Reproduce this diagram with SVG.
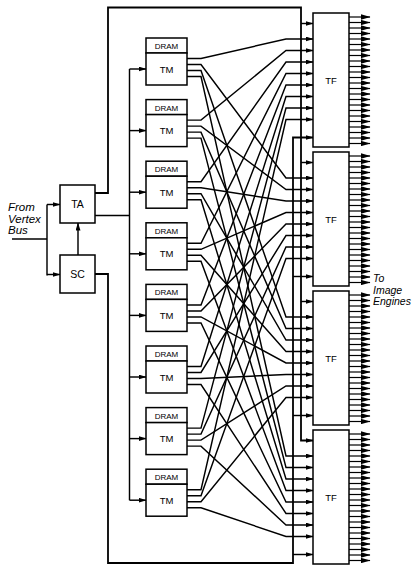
<svg xmlns="http://www.w3.org/2000/svg" xmlns:xlink="http://www.w3.org/1999/xlink" width="412" height="565" viewBox="0 0 412 565">
<style>
.ln{fill:none;stroke:#000;stroke-width:1.45}
.bus{fill:none;stroke:#000;stroke-width:1.8}
.out{fill:none;stroke:#000;stroke-width:1.2}
.bx{fill:#fff;stroke:#000;stroke-width:1.5}
.lb{font-family:"Liberation Sans",Arial,sans-serif;text-anchor:middle;fill:#000}
.it{font-family:"Liberation Sans",Arial,sans-serif;font-style:italic;fill:#000}
</style>
<defs>
<marker id="ah" viewBox="0 0 8 5" refX="7.5" refY="2.5" markerWidth="8" markerHeight="5" markerUnits="userSpaceOnUse" orient="auto"><path d="M0,0 L8,2.5 L0,5 z" fill="#000"/></marker>
<marker id="ao" viewBox="0 0 10 5.6" refX="9.5" refY="2.8" markerWidth="10" markerHeight="5.6" markerUnits="userSpaceOnUse" orient="auto"><path d="M0,0 L10,2.8 L0,5.6 z" fill="#000"/></marker>
<g id="outs" class="out" marker-end="url(#ao)">
<line x1="349" y1="4" x2="370" y2="4"/><line x1="349" y1="9.5" x2="370" y2="9.5"/><line x1="349" y1="15" x2="370" y2="15"/><line x1="349" y1="20.5" x2="370" y2="20.5"/>
<line x1="349" y1="26" x2="370" y2="26"/><line x1="349" y1="31.5" x2="370" y2="31.5"/><line x1="349" y1="37" x2="370" y2="37"/><line x1="349" y1="42.5" x2="370" y2="42.5"/>
<line x1="349" y1="48" x2="370" y2="48"/><line x1="349" y1="53.5" x2="370" y2="53.5"/><line x1="349" y1="59" x2="370" y2="59"/><line x1="349" y1="64.5" x2="370" y2="64.5"/>
<line x1="349" y1="70" x2="370" y2="70"/><line x1="349" y1="75.5" x2="370" y2="75.5"/><line x1="349" y1="81" x2="370" y2="81"/><line x1="349" y1="86.5" x2="370" y2="86.5"/>
<line x1="349" y1="92" x2="370" y2="92"/><line x1="349" y1="97.5" x2="370" y2="97.5"/><line x1="349" y1="103" x2="370" y2="103"/><line x1="349" y1="108.5" x2="370" y2="108.5"/>
<line x1="349" y1="114" x2="370" y2="114"/><line x1="349" y1="119.5" x2="370" y2="119.5"/><line x1="349" y1="125" x2="370" y2="125"/><line x1="349" y1="130.5" x2="370" y2="130.5"/>
</g>
</defs>
<rect width="412" height="565" fill="#fff"/>

<g id="connectors">
<g class="ln">
<line x1="12" y1="239" x2="47" y2="239"/>
<line x1="47" y1="204.5" x2="47" y2="275.5"/>
<line x1="47" y1="204.5" x2="60" y2="204.5" marker-end="url(#ah)"/>
<line x1="47" y1="274.5" x2="60" y2="274.5" marker-end="url(#ah)"/>
<line x1="78" y1="255" x2="78" y2="223" marker-end="url(#ah)"/>
<line x1="95" y1="215.5" x2="129.5" y2="215.5"/>
<line x1="129.5" y1="69" x2="129.5" y2="500.2"/>
<line x1="129.5" y1="69" x2="146" y2="69" marker-end="url(#ah)"/>
<line x1="129.5" y1="130.6" x2="146" y2="130.6" marker-end="url(#ah)"/>
<line x1="129.5" y1="192.2" x2="146" y2="192.2" marker-end="url(#ah)"/>
<line x1="129.5" y1="253.8" x2="146" y2="253.8" marker-end="url(#ah)"/>
<line x1="129.5" y1="315.4" x2="146" y2="315.4" marker-end="url(#ah)"/>
<line x1="129.5" y1="377" x2="146" y2="377" marker-end="url(#ah)"/>
<line x1="129.5" y1="438.6" x2="146" y2="438.6" marker-end="url(#ah)"/>
<line x1="129.5" y1="500.2" x2="146" y2="500.2" marker-end="url(#ah)"/>
</g>
<polyline class="bus" points="95,193 108,193 108,7.5 301,7.5 301,440.5 313,440.5" marker-end="url(#ah)"/>
<polyline class="bus" points="95,274 108,274 108,563 293,563 293,137.5 313,137.5" marker-end="url(#ah)"/>
<g class="ln" marker-end="url(#ah)">
<line x1="301" y1="23.5" x2="313" y2="23.5"/>
<line x1="301" y1="162.5" x2="313" y2="162.5"/>
<line x1="301" y1="301.5" x2="313" y2="301.5"/>
<line x1="293" y1="276.5" x2="313" y2="276.5"/>
<line x1="293" y1="415.5" x2="313" y2="415.5"/>
<line x1="293" y1="554.5" x2="313" y2="554.5"/>
</g>
<g class="ln" marker-end="url(#ah)">
<polyline points="187,58.5 201,58.5 286,39 313,39"/>
<polyline points="187,64.5 201,64.5 286,178 313,178"/>
<polyline points="187,70.5 201,70.5 286,317 313,317"/>
<polyline points="187,76.5 201,76.5 286,456 313,456"/>
<polyline points="187,120.1 201,120.1 286,50.5 313,50.5"/>
<polyline points="187,126.1 201,126.1 286,189.5 313,189.5"/>
<polyline points="187,132.1 201,132.1 286,328.5 313,328.5"/>
<polyline points="187,138.1 201,138.1 286,467.5 313,467.5"/>
<polyline points="187,181.7 201,181.7 286,62 313,62"/>
<polyline points="187,187.7 201,187.7 286,201 313,201"/>
<polyline points="187,193.7 201,193.7 286,340 313,340"/>
<polyline points="187,199.7 201,199.7 286,479 313,479"/>
<polyline points="187,243.3 201,243.3 286,73.5 313,73.5"/>
<polyline points="187,249.3 201,249.3 286,212.5 313,212.5"/>
<polyline points="187,255.3 201,255.3 286,351.5 313,351.5"/>
<polyline points="187,261.3 201,261.3 286,490.5 313,490.5"/>
<polyline points="187,304.9 201,304.9 286,85 313,85"/>
<polyline points="187,310.9 201,310.9 286,224 313,224"/>
<polyline points="187,316.9 201,316.9 286,363 313,363"/>
<polyline points="187,322.9 201,322.9 286,502 313,502"/>
<polyline points="187,366.5 201,366.5 286,96.5 313,96.5"/>
<polyline points="187,372.5 201,372.5 286,235.5 313,235.5"/>
<polyline points="187,378.5 201,378.5 286,374.5 313,374.5"/>
<polyline points="187,384.5 201,384.5 286,513.5 313,513.5"/>
<polyline points="187,428.1 201,428.1 286,108 313,108"/>
<polyline points="187,434.1 201,434.1 286,247 313,247"/>
<polyline points="187,440.1 201,440.1 286,386 313,386"/>
<polyline points="187,446.1 201,446.1 286,525 313,525"/>
<polyline points="187,489.7 201,489.7 286,119.5 313,119.5"/>
<polyline points="187,495.7 201,495.7 286,258.5 313,258.5"/>
<polyline points="187,501.7 201,501.7 286,397.5 313,397.5"/>
<polyline points="187,507.7 201,507.7 286,536.5 313,536.5"/>
</g>
<use href="#outs" xlink:href="#outs" y="13"/>
<use href="#outs" xlink:href="#outs" y="152"/>
<use href="#outs" xlink:href="#outs" y="291"/>
<use href="#outs" xlink:href="#outs" y="430"/>
</g>

<g id="TA"><rect class="bx" x="60" y="185" width="35" height="38"/><text class="lb" x="77.5" y="208" font-size="10.5">TA</text></g>
<g id="SC"><rect class="bx" x="60" y="255" width="35" height="38"/><text class="lb" x="77.5" y="278" font-size="10.5">SC</text></g>

<g id="TM1"><rect class="bx" x="146" y="38" width="41" height="15"/><text class="lb" x="166.5" y="49" font-size="8">DRAM</text><rect class="bx" x="146" y="53" width="41" height="32"/><text class="lb" x="166.5" y="72.5" font-size="9.5">TM</text></g>
<g id="TM2"><rect class="bx" x="146" y="99.6" width="41" height="15"/><text class="lb" x="166.5" y="110.6" font-size="8">DRAM</text><rect class="bx" x="146" y="114.6" width="41" height="32"/><text class="lb" x="166.5" y="134.1" font-size="9.5">TM</text></g>
<g id="TM3"><rect class="bx" x="146" y="161.2" width="41" height="15"/><text class="lb" x="166.5" y="172.2" font-size="8">DRAM</text><rect class="bx" x="146" y="176.2" width="41" height="32"/><text class="lb" x="166.5" y="195.7" font-size="9.5">TM</text></g>
<g id="TM4"><rect class="bx" x="146" y="222.8" width="41" height="15"/><text class="lb" x="166.5" y="233.8" font-size="8">DRAM</text><rect class="bx" x="146" y="237.8" width="41" height="32"/><text class="lb" x="166.5" y="257.3" font-size="9.5">TM</text></g>
<g id="TM5"><rect class="bx" x="146" y="284.4" width="41" height="15"/><text class="lb" x="166.5" y="295.4" font-size="8">DRAM</text><rect class="bx" x="146" y="299.4" width="41" height="32"/><text class="lb" x="166.5" y="318.9" font-size="9.5">TM</text></g>
<g id="TM6"><rect class="bx" x="146" y="346" width="41" height="15"/><text class="lb" x="166.5" y="357" font-size="8">DRAM</text><rect class="bx" x="146" y="361" width="41" height="32"/><text class="lb" x="166.5" y="380.5" font-size="9.5">TM</text></g>
<g id="TM7"><rect class="bx" x="146" y="407.6" width="41" height="15"/><text class="lb" x="166.5" y="418.6" font-size="8">DRAM</text><rect class="bx" x="146" y="422.6" width="41" height="32"/><text class="lb" x="166.5" y="442.1" font-size="9.5">TM</text></g>
<g id="TM8"><rect class="bx" x="146" y="469.2" width="41" height="15"/><text class="lb" x="166.5" y="480.2" font-size="8">DRAM</text><rect class="bx" x="146" y="484.2" width="41" height="32"/><text class="lb" x="166.5" y="503.7" font-size="9.5">TM</text></g>

<g id="TF1"><rect class="bx" x="313" y="13" width="36" height="134"/><text class="lb" x="331" y="83.5" font-size="9.5">TF</text></g>
<g id="TF2"><rect class="bx" x="313" y="152" width="36" height="134"/><text class="lb" x="331" y="222.5" font-size="9.5">TF</text></g>
<g id="TF3"><rect class="bx" x="313" y="291" width="36" height="134"/><text class="lb" x="331" y="361.5" font-size="9.5">TF</text></g>
<g id="TF4"><rect class="bx" x="313" y="430" width="36" height="134"/><text class="lb" x="331" y="500.5" font-size="9.5">TF</text></g>

<g id="labels">
<text class="it" font-size="11.5"><tspan x="8" y="211">From</tspan><tspan x="8" y="222.5">Vertex</tspan><tspan x="8" y="234">Bus</tspan></text>
<text class="it" font-size="10.5"><tspan x="373" y="282">To</tspan><tspan x="373" y="293.5">Image</tspan><tspan x="373" y="305">Engines</tspan></text>
</g>
</svg>
